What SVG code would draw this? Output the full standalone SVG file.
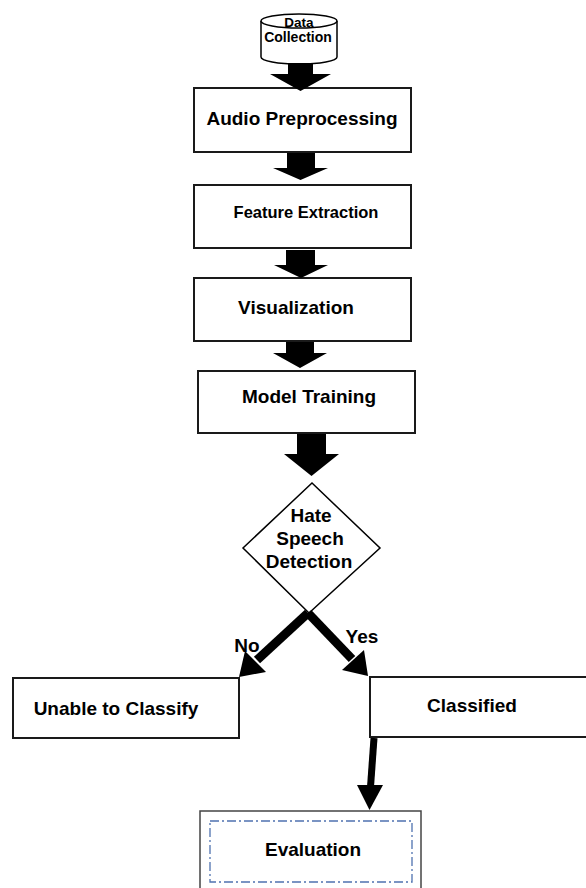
<svg xmlns="http://www.w3.org/2000/svg" width="586" height="888" viewBox="0 0 586 888">
<style>
.box{fill:#fff;stroke:#1a1a1a;stroke-width:2}
.t{font-family:"Liberation Sans",Arial,sans-serif;font-weight:bold;font-size:19px;fill:#000;text-anchor:middle}
.blk{fill:#000;stroke:none}
.ln{stroke:#000;fill:none}
</style>
<rect width="586" height="888" fill="#fff"/>
<g id="data-collection">
<path d="M261,21 L261,57 A38,7 0 0 0 337,57 L337,21" fill="#fff" stroke="#000" stroke-width="1.5"/>
<ellipse cx="299" cy="21" rx="38" ry="7" fill="#fff" stroke="#000" stroke-width="1.5"/>
<text class="t" x="299" y="27" style="font-size:13.5px">Data</text>
<text class="t" x="298" y="42" style="font-size:14px">Collection</text>
</g>
<g id="audio-preprocessing">
<rect class="box" x="194" y="88" width="217" height="64"/>
<text class="t" x="302" y="125">Audio Preprocessing</text>
</g>
<g id="feature-extraction">
<rect class="box" x="194" y="185" width="217" height="63"/>
<text class="t" x="306" y="218" style="font-size:16.5px">Feature Extraction</text>
</g>
<g id="visualization">
<rect class="box" x="194" y="278" width="217" height="63"/>
<text class="t" x="296" y="314">Visualization</text>
</g>
<g id="model-training">
<rect class="box" x="198" y="371" width="217" height="62"/>
<text class="t" x="309" y="403">Model Training</text>
</g>
<g id="hate-speech-detection">
<polygon points="312,483 380,548 309,613 243,548" fill="#fff" stroke="#000" stroke-width="1.5"/>
<text class="t" x="311" y="522">Hate</text>
<text class="t" x="310" y="545">Speech</text>
<text class="t" x="309" y="568">Detection</text>
</g>
<g id="unable-to-classify">
<rect class="box" x="13" y="678" width="226" height="60"/>
<text class="t" x="116" y="715">Unable to Classify</text>
</g>
<g id="classified">
<rect class="box" x="370" y="677" width="230" height="60"/>
<text class="t" x="472" y="712">Classified</text>
</g>
<g id="evaluation">
<rect x="200" y="811" width="221" height="90" fill="#fff" stroke="#444" stroke-width="1.5"/>
<rect x="210" y="821" width="202" height="61" fill="none" stroke="#4f72b0" stroke-width="1.3" stroke-dasharray="9,3,2,3"/>
<text class="t" x="313" y="856">Evaluation</text>
</g>
<g id="connectors">
<polygon class="blk" points="288,63 313,63 313,74 331,74 300.5,91 270,74 288,74"/>
<polygon class="blk" points="287,153 315,153 315,168 328,168 300.5,180 273,168 287,168"/>
<polygon class="blk" points="286,250 315,250 315,265 328,265 301,278 274,265 286,265"/>
<polygon class="blk" points="286,342 314,342 314,353 327,353 300,368 273,353 286,353"/>
<polygon class="blk" points="297,434 326,434 326,454 339,454 311.5,476 284,454 297,454"/>
<line class="ln" x1="308" y1="613" x2="257" y2="660" stroke-width="9"/>
<polygon class="blk" points="239,677 245,651 266,672"/>
<line class="ln" x1="308" y1="613" x2="352" y2="659" stroke-width="9"/>
<polygon class="blk" points="368,676 364,650 342,670"/>
<line class="ln" x1="374" y1="738" x2="370.5" y2="787" stroke-width="7"/>
<polygon class="blk" points="357,785 383,785 369.5,810"/>
<text class="t" x="247" y="652">No</text>
<text class="t" x="362" y="643">Yes</text>
</g>
</svg>
